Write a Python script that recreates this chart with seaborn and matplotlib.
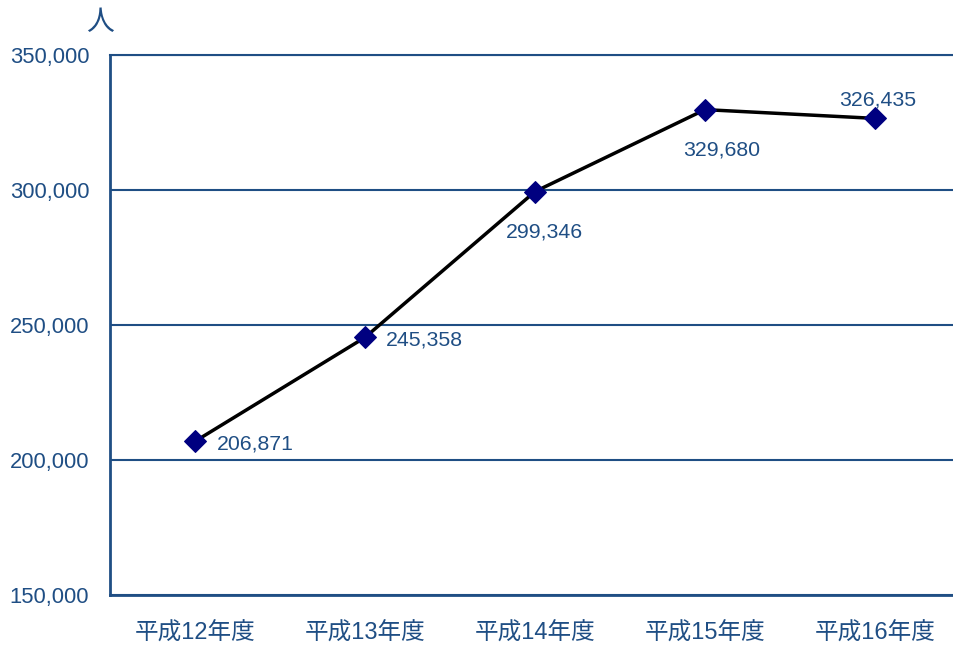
import pandas as pd
import matplotlib.pyplot as plt
import seaborn as sns

years = ["平成12年度", "平成13年度", "平成14年度", "平成15年度", "平成16年度"]
people = [206871, 245358, 299346, 329680, 326435]
label_offsets = [(16, -2), (15, -2), (7, -29), (12, -29), (2, 13)]   # points, for value labels
label_ha = ["left", "left", "center", "center", "center"]

sns.set_style("white")
plt.rcParams['font.family'] = ['Liberation Sans', 'Noto Sans CJK JP', 'DejaVu Sans']
text_color = "#1f4e84"

df = pd.DataFrame({"year": years, "people": people, "pos": range(len(years))})

fig = plt.figure(figsize=(9.54, 6.47), dpi=100)
ax = fig.add_axes([0.1153, 0.0804, 0.891, 0.835])

sns.lineplot(data=df, x="pos", y="people", color="black", linewidth=2.5, ax=ax,
             marker="D", markersize=11, markerfacecolor="#000080", markeredgecolor="#000080")

for i, v in enumerate(people):
    ax.annotate(f"{v:,}", (i, v), xytext=label_offsets[i], textcoords="offset points",
                ha=label_ha[i], va="center", fontsize=15.3, color=text_color)

ax.set_xlim(-0.5, len(years) - 0.5)
ax.set_ylim(150000, 350000)
ax.set_yticks([150000, 200000, 250000, 300000, 350000])
ax.set_yticklabels([f"{t:,}" for t in ax.get_yticks()], fontsize=15.8, color=text_color)
ax.yaxis.grid(True, color=text_color, linewidth=1.5)
ax.tick_params(axis="y", length=0, pad=15)

# category labels centred, tick marks at the boundaries
ax.set_xticks(range(len(years)))
ax.set_xticklabels(years, fontsize=17, color=text_color)
ax.set_xticks([i + 0.5 for i in range(len(years) - 1)], minor=True)
ax.tick_params(axis="x", which="major", length=0, pad=19.5)
ax.tick_params(axis="x", which="minor", direction="in", length=10, width=1.5, color=text_color)
ax.set_xlabel("")
ax.set_ylabel("")

ax.spines["right"].set_visible(False)
ax.spines["top"].set_color(text_color)
ax.spines["top"].set_linewidth(1.5)
for s in ["left", "bottom"]:
    ax.spines[s].set_color(text_color)
    ax.spines[s].set_linewidth(2)

fig.text(0.105, 0.965, "人", fontsize=20, color=text_color, ha="center", va="center")

plt.savefig("out.png", dpi=100)
